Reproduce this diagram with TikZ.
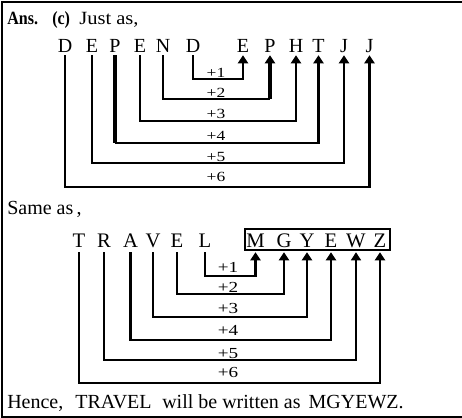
\documentclass[tikz,border=0pt]{standalone}
\usepackage{fontspec}
\setmainfont{Liberation Serif}
\newfontfamily\labfont[FakeStretch=1.25]{Liberation Serif}
\newfontfamily\widefont[FakeStretch=1.1]{Liberation Serif}
\newfontfamily\narrowbold[FakeStretch=0.86]{Liberation Serif Bold}
\usetikzlibrary{arrows.meta}
\begin{document}
\begin{tikzpicture}[x=0.75pt,y=-0.75pt,
  frame/.style={line width=1.5pt},
  srcA/.style={font=\fontsize{15}{15}\selectfont, inner xsep=0pt, inner ysep=2.25pt, text depth=0pt, anchor=base},
  srcB/.style={font=\fontsize{15.5}{15.5}\selectfont, inner xsep=0pt, inner ysep=3.75pt, text depth=0pt, anchor=base},
  labA/.style={font=\labfont\fontsize{10.5}{11}\selectfont, inner sep=0pt, anchor=base},
  labB/.style={font=\labfont\fontsize{11.5}{12}\selectfont, inner sep=0pt, anchor=base},
  txt/.style={inner sep=0pt, anchor=base west},
  boldtxt/.style={txt, font=\narrowbold\fontsize{14}{16}\selectfont},
  conn/.style={line width=1.8pt, -{Triangle[width=7.5pt,length=6pt]}},
  seg/.style={line width=1.8pt},
  thickseg/.style={line width=3pt},
  thinconn/.style={line width=1pt, -{Triangle[width=7.5pt,length=6pt]}},
  wbox/.style={draw, line width=1.5pt, minimum width=108.75pt, minimum height=15.75pt, inner sep=0pt}
]
\useasboundingbox (0,0) rectangle (462,418);
\draw[frame] (2,2) rectangle (475,417);

% ---------- top part ----------
\node[boldtxt] (ans) at (7,24) {Ans.};
\node[boldtxt] (optc) at (52,24) {(c)};
\node[txt, font=\widefont\fontsize{14}{17}\selectfont] (just) at (79,24) {Just as,};

\node[srcA] (a1) at (65,52) {D};
\node[srcA] (a2) at (92,52) {E};
\node[srcA] (a3) at (115,52) {P};
\node[srcA] (a4) at (140,52) {E};
\node[srcA] (a5) at (163,52) {N};
\node[srcA] (a6) at (193,52) {D};

\node[srcA] (b1) at (243,52) {E};
\node[srcA] (b2) at (270,52) {P};
\node[srcA] (b3) at (296,52) {H};
\node[srcA] (b4) at (318.5,52) {T};
\node[srcA] (b5) at (344,52) {J};
\node[srcA] (b6) at (369.5,52) {J};

\coordinate (ha1) at (0,79);
\coordinate (ha2) at (0,99);
\coordinate (ha3) at (0,121);
\coordinate (ha4) at (0,143);
\coordinate (ha5) at (0,163);
\coordinate (ha6) at (0,187);

\draw[conn] (a6.south) -- (a6.south |- ha1) -| (b1.south);
\draw[seg] (a5.south) -- (a5.south |- ha2) -- (b2.south |- ha2);
\draw[conn, thickseg] (b2.south |- ha2) -- (b2.south);
\draw[conn] (a4.south) -- (a4.south |- ha3) -| (b3.south);
\draw[thickseg] (a3.south) -- (a3.south |- ha4);
\draw[conn] (a3.south |- ha4) -| (b4.south);
\draw[conn] (a2.south) -- (a2.south |- ha5) -| (b5.south);
\draw[conn] (a1.south) -- (a1.south |- ha6) -| (b6.south);

\node[labA] (pa1) at (216,77) {+1};
\node[labA] (pa2) at (216,97) {+2};
\node[labA] (pa3) at (216,118) {+3};
\node[labA] (pa4) at (216,140) {+4};
\node[labA] (pa5) at (216,161) {+5};
\node[labA] (pa6) at (216,181) {+6};

% ---------- bottom part ----------
\node[txt, font=\fontsize{15}{17}\selectfont] (same) at (7,214) {Same as\,,};

\node[srcB] (c1) at (79,247) {T};
\node[srcB] (c2) at (104,247) {R};
\node[srcB] (c3) at (130.5,247) {A};
\node[srcB] (c4) at (153,247) {V};
\node[srcB] (c5) at (177,247) {E};
\node[srcB] (c6) at (205,247) {L};

\node[wbox] (tbox) at (317.5,239.5) {};
\node[srcB] (d1) at (255.5,247) {M};
\node[srcB] (d2) at (284,247) {G};
\node[srcB] (d3) at (307,247) {Y};
\node[srcB] (d4) at (331,247) {E};
\node[srcB] (d5) at (356,247) {W};
\node[srcB] (d6) at (380,247) {Z};

\coordinate (hb1) at (0,276);
\coordinate (hb2) at (0,294);
\coordinate (hb3) at (0,317);
\coordinate (hb4) at (0,340);
\coordinate (hb5) at (0,360);
\coordinate (hb6) at (0,383);

\draw[conn] (c6.south) -- (c6.south |- hb1) -| (d1.south);
\draw[conn] (c5.south) -- (c5.south |- hb2) -| (d2.south);
\draw[conn] (c4.south) -- (c4.south |- hb3) -| (d3.south);
\draw[conn] (c3.south) -- (c3.south |- hb4) -| (d4.south);
\draw[thinconn] (c2.south) -- (c2.south |- hb5) -| (d5.south);
\draw[conn] (c1.south) -- (c1.south |- hb6) -| (d6.south);

\node[labB] (pb1) at (228,272) {+1};
\node[labB] (pb2) at (228,292) {+2};
\node[labB] (pb3) at (228,313) {+3};
\node[labB] (pb4) at (228,335) {+4};
\node[labB] (pb5) at (228,358) {+5};
\node[labB] (pb6) at (228,377) {+6};

\node[txt, font=\fontsize{15}{17}\selectfont] (hence) at (7,408) {Hence,\hspace{9pt}TRAVEL\hspace{8pt}will be written as\hspace{6pt}MGYEWZ.};
\end{tikzpicture}
\end{document}
